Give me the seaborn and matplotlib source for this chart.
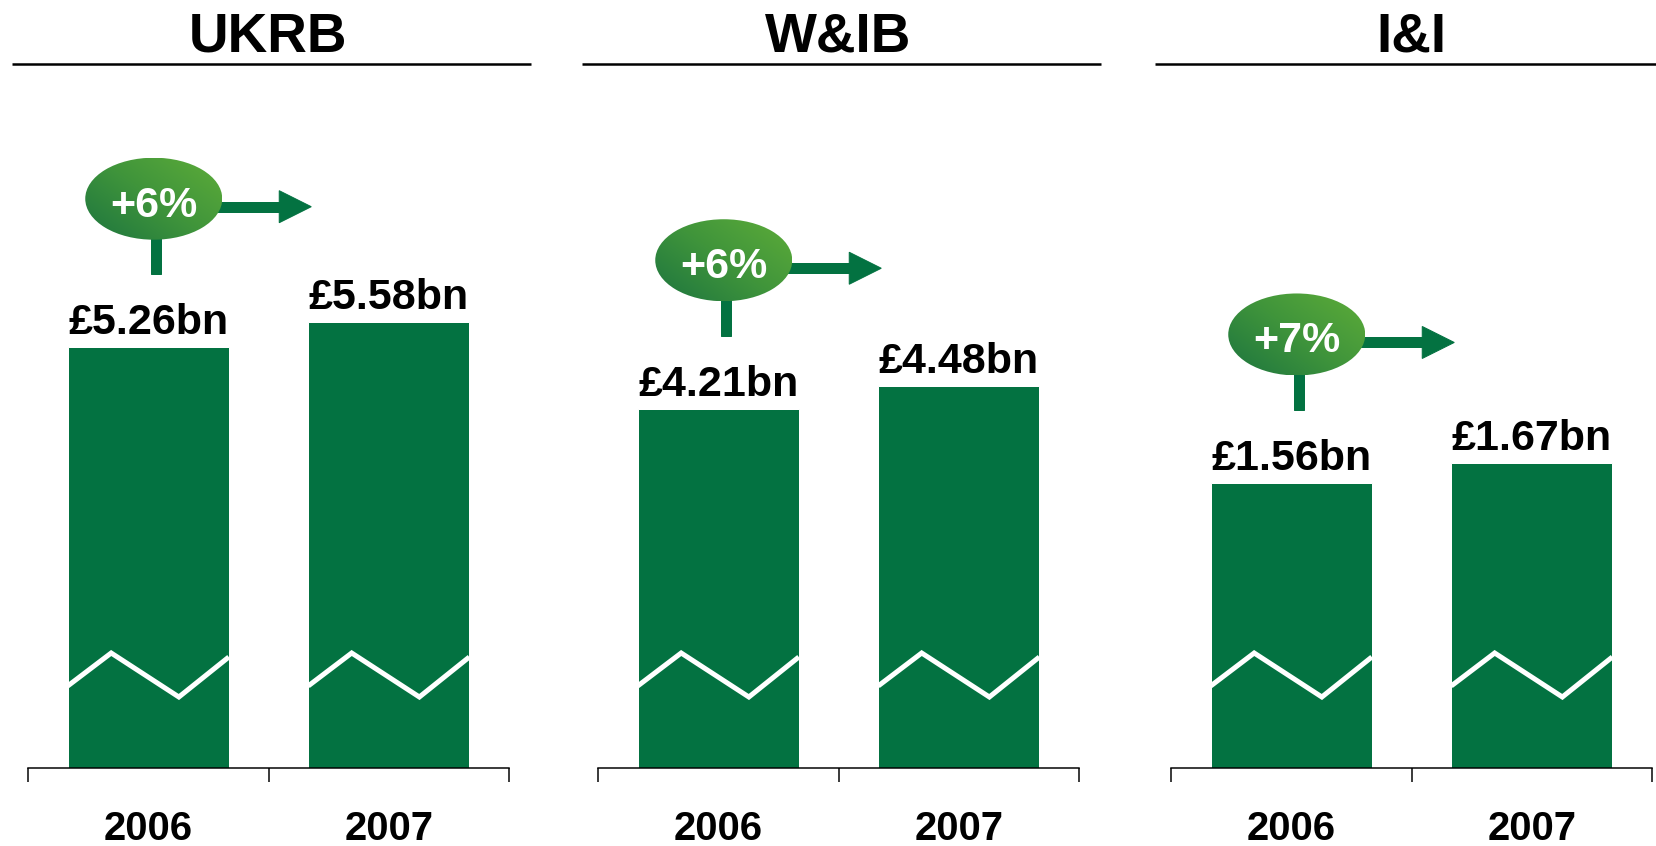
# ========== Librerias ==========
import numpy as np
import pandas as pd
import matplotlib
matplotlib.use("Agg")
import matplotlib.pyplot as plt
import seaborn as sns
from matplotlib.patches import Ellipse, Rectangle, Polygon
from matplotlib.colors import LinearSegmentedColormap
from matplotlib.transforms import blended_transform_factory

# ========== Datos ==========
segments = ["UKRB", "W&IB", "I&I"]
years = ["2006", "2007"]
income_2006 = [5.26, 4.21, 1.56]
income_2007 = [5.58, 4.48, 1.67]
growth = ["+6%", "+6%", "+7%"]

# ========== Estilo ==========
GREEN = "#037241"
W, H, DPI = 1656, 846, 72

sns.set_style("white")
plt.rcParams["font.family"] = ["Liberation Sans", "DejaVu Sans"]
plt.rcParams["font.weight"] = "bold"
plt.rcParams["text.color"] = "black"
plt.rcParams["xtick.color"] = "black"
plt.rcParams["axes.titlecolor"] = "black"

fig = plt.figure(figsize=(W / DPI, H / DPI), dpi=DPI, facecolor="white")

# posicion de cada panel (px)
panel_left = [28, 598, 1171]
panel_w = 481
base_y, top_y = 768, 64
ymax = [8.80, 8.25, 3.853]

# capa para burbujas en pixeles
overlay = fig.add_axes([0, 0, 1, 1], zorder=5)
overlay.patch.set_alpha(0)
overlay.axis("off")

cmap = LinearSegmentedColormap.from_list("bubble", ["#1d753f", "#3f943b", "#5dac39"])
xx, yy = np.meshgrid(np.linspace(0, 1, 80), np.linspace(0, 1, 80))
grad = (0.55 * xx + 0.45 * yy)

def frac(ypx):
    return (base_y - ypx) / (base_y - top_y)

for i, seg in enumerate(segments):
    df = pd.DataFrame({"year": years, "value": [income_2006[i], income_2007[i]]})
    ax = fig.add_axes([panel_left[i] / W, (H - base_y) / H, panel_w / W, (base_y - top_y) / H])
    sns.barplot(data=df, x="year", y="value", color=GREEN, saturation=1, width=0.67, ax=ax)
    ax.set_xlim(-0.5, 1.5)
    ax.set_ylim(0, ymax[i])
    ax.set_xlabel("")
    ax.set_ylabel("")
    ax.set_yticks([])
    sns.despine(ax=ax, left=True)
    ax.spines["bottom"].set_color("black")
    ax.spines["bottom"].set_linewidth(1.5)

    # ticks en los bordes, etiquetas en el centro
    ax.set_xticks([-0.5, 0.5, 1.5])
    ax.set_xticklabels([])
    ax.set_xticks([0, 1], minor=True)
    ax.set_xticklabels(years, minor=True, fontsize=40, fontweight="bold", color="black")
    ax.tick_params(axis="x", which="major", length=14, width=1.5, direction="out",
                   color="black", bottom=True)
    ax.tick_params(axis="x", which="minor", length=0, pad=42, bottom=True)

    # titulo y linea
    ax.set_title(seg, fontsize=55, fontweight="bold", pad=10, color="black")
    right = 1.06 if i == 2 else 1 + 22 / panel_w
    ax.plot([-16 / panel_w, right], [1, 1], transform=ax.transAxes, color="black",
            lw=2.5, clip_on=False, solid_capstyle="butt")

    # zigzag de eje cortado
    trans = blended_transform_factory(ax.transData, ax.transAxes)
    for p in ax.patches:
        x0, w = p.get_x(), p.get_width()
        ax.plot([x0, x0 + 0.27 * w, x0 + 0.69 * w, x0 + w],
                [frac(686), frac(653), frac(697), frac(657)],
                transform=trans, color="white", lw=5, solid_joinstyle="miter",
                solid_capstyle="butt", zorder=3)
        # etiqueta de valor
        ax.annotate(f"£{p.get_height():.2f}bn", (x0 + w / 2, p.get_height()),
                    xytext=(0, 13), textcoords="offset points", ha="center",
                    va="baseline", fontsize=43, fontweight="bold", color="black")

    # burbuja de crecimiento
    b = ax.patches[0]
    bx, by = ax.transData.transform((b.get_x() + b.get_width() / 2, b.get_height()))
    cx, cy = bx + 5.5, by + 148.5
    overlay.add_patch(Rectangle((cx + 2.5 - 5, by + 73), 10, cy - by - 73, color=GREEN, zorder=1))
    overlay.add_patch(Rectangle((cx, cy - 8 - 5), 126, 10, color=GREEN, zorder=1))
    overlay.add_patch(Polygon([(cx + 125.5, cy + 8), (cx + 157.5, cy - 8), (cx + 125.5, cy - 24)],
                              closed=True, color=GREEN, zorder=1))
    ell = Ellipse((cx, cy), 137, 82, facecolor="none", edgecolor="none")
    overlay.add_patch(ell)
    im = overlay.imshow(grad, extent=[cx - 68.5, cx + 68.5, cy - 41, cy + 41], origin="lower",
                        cmap=cmap, aspect="auto", interpolation="bilinear", zorder=2)
    im.set_clip_path(ell)
    overlay.text(cx, cy - 18, growth[i], color="white", fontsize=43, fontweight="bold",
                 ha="center", va="baseline", zorder=3)

overlay.set_xlim(0, W)
overlay.set_ylim(0, H)

fig.savefig("out.png", dpi=DPI, facecolor="white")
